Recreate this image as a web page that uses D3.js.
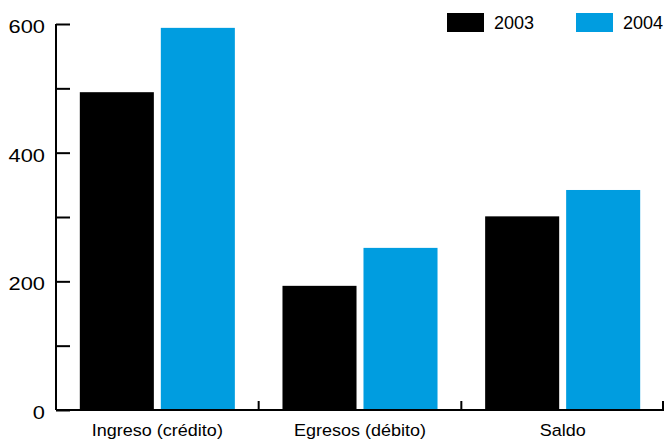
<!DOCTYPE html>
<html>
<head>
<meta charset="utf-8">
<script src="https://cdn.jsdelivr.net/npm/d3@7"></script>
<style>
  body { margin: 0; background: #fff; }
  text { font-family: "Liberation Sans", Arial, sans-serif; fill: #000; }
</style>
</head>
<body>
<svg id="chart" width="664" height="439"></svg>
<script>
// Chart data.
const categories = ["Ingreso (crédito)", "Egresos (débito)", "Saldo"];
const years = ["2003", "2004"];
const values2003 = [494, 193, 301];
const values2004 = [594, 252, 342];
const yTicks = [0, 100, 200, 300, 400, 500, 600];
const yLabels = [0, 200, 400, 600]; // only every other tick is labelled
const colors = { "2003": "#000000", "2004": "#009de0" };

const svg = d3.select("#chart");
const margin = { left: 56, right: 0, top: 24, bottom: 29 };
const width = 664, height = 439;

// Scales
const x0 = d3.scaleBand()
    .domain(categories)
    .range([margin.left, width - margin.right]);

const x1 = d3.scaleBand()
    .domain(years)
    .range([0, x0.bandwidth()])
    .paddingInner(0.086)
    .paddingOuter(0.294);

const y = d3.scaleLinear()
    .domain([0, 600])
    .range([height - margin.bottom, margin.top]);

const rows = categories.map((c, i) => ({ cat: c, "2003": values2003[i], "2004": values2004[i] }));

// Bars
const groups = svg.append("g")
    .selectAll("g")
    .data(rows)
    .join("g")
    .attr("transform", d => `translate(${x0(d.cat)},0)`);

groups.selectAll("rect")
    .data(d => years.map(yr => ({ yr: yr, value: d[yr] })))
    .join("rect")
    .attr("x", d => x1(d.yr))
    .attr("y", d => y(d.value))
    .attr("width", x1.bandwidth())
    .attr("height", d => y(0) - y(d.value))
    .attr("fill", d => colors[d.yr]);

// Y axis: ticks point inward (to the right)
const yAxis = svg.append("g")
    .attr("transform", `translate(${margin.left},0)`)
    .call(d3.axisRight(y).tickValues(yTicks).tickSize(14).tickFormat(""));
yAxis.select(".domain").attr("d", `M0,${y(600)}V${y(0)}`);
yAxis.selectAll("path, line").attr("stroke", "#000").attr("stroke-width", 2);

// tick labels are drawn a bit wider than the font, as in the original
svg.append("g")
    .selectAll("text")
    .data(yLabels)
    .join("text")
    .attr("transform", d => `translate(45,${y(d) + 9}) scale(1.18,1)`)
    .attr("text-anchor", "end")
    .attr("font-size", 18.5)
    .text(d => d);

// X axis: ticks at category boundaries, pointing up
const xAxis = svg.append("g");
xAxis.append("line")
    .attr("x1", margin.left).attr("x2", width)
    .attr("y1", y(0)).attr("y2", y(0))
    .attr("stroke", "#000").attr("stroke-width", 2);
xAxis.selectAll("line.tick")
    .data(categories.slice(1).concat(["end"]))
    .join("line")
    .attr("class", "tick")
    .attr("x1", (d, i) => i < 2 ? x0(d) : width - 1)
    .attr("x2", (d, i) => i < 2 ? x0(d) : width - 1)
    .attr("y1", y(0)).attr("y2", y(0) - 9)
    .attr("stroke", "#000").attr("stroke-width", 2);

svg.append("g")
    .selectAll("text")
    .data(categories)
    .join("text")
    .attr("transform", d => `translate(${x0(d) + x0.bandwidth() / 2},436) scale(1.06,1)`)
    .attr("text-anchor", "middle")
    .attr("font-size", 17)
    .text(d => d);

// Legend
const legend = svg.append("g")
    .selectAll("g")
    .data(years)
    .join("g")
    .attr("transform", (d, i) => `translate(${447 + i * 129},13)`);
legend.append("rect")
    .attr("width", 37).attr("height", 19)
    .attr("fill", d => colors[d]);
legend.append("text")
    .attr("x", 47).attr("y", 16)
    .attr("font-size", 18)
    .text(d => d);
</script>
</body>
</html>
